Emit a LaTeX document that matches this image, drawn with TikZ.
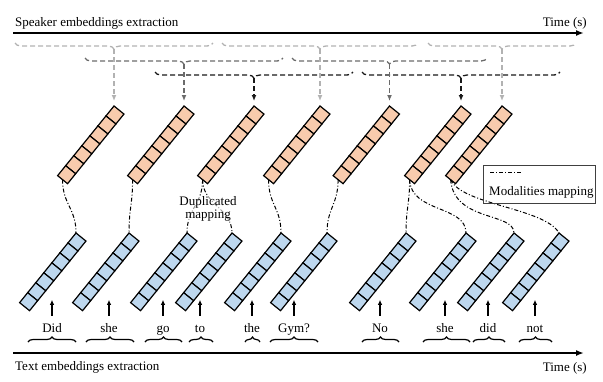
\documentclass[tikz,border=0pt]{standalone}
\usepackage{fontspec}
\setmainfont{Liberation Serif}
\usetikzlibrary{arrows.meta,decorations.pathreplacing,calc}
\definecolor{spkfill}{HTML}{F8CBAD}
\definecolor{txtfill}{HTML}{BDD7EE}
\colorlet{spkA}{black!30}
\colorlet{spkB}{black!58}
\colorlet{spkC}{black!90}
% one embedding vector: 7 cells, tilted, hanging from its top corner
\newcommand{\embbar}[3]{%
  \begin{scope}[shift={(#2)},rotate=231]
    \foreach \k in {0,...,6}
      \draw[embcell,fill=#3] (\k*12.8,0) rectangle ++(12.8,-12.8);
    \coordinate (#1-top) at (0,0);
    \coordinate (#1-bot) at (89.6,-6.4);
  \end{scope}}
\begin{document}
\begin{tikzpicture}[x=1pt,y=-1pt,
  font=\fontsize{13pt}{16pt}\selectfont,
  embcell/.style={draw=black,line width=1.2pt},
  timeaxis/.style={line width=1.6pt,-{Latex[length=8pt,width=6pt]}},
  spkbrace/.style={line width=1.3pt,dash pattern=on 5pt off 3pt,decorate,decoration={brace,mirror,amplitude=6pt}},
  spkarrow/.style={line width=1.3pt,dash pattern=on 5pt off 3pt,-{Latex[length=6pt,width=5pt]},shorten >=5pt},
  mapline/.style={line width=1pt,dash pattern=on 4pt off 2pt on 1pt off 2pt},
  wordbrace/.style={line width=1.2pt,decorate,decoration={brace,amplitude=5pt}},
  wordarrow/.style={line width=1.2pt,-{Latex[length=5pt,width=4.5pt]}},
  word/.style={anchor=base,inner sep=7pt,text height=9pt,text depth=3pt}]
\useasboundingbox (0,0) rectangle (603,381);

% time axes
\node[anchor=base west,inner sep=0pt] (spktitle) at (15,26) {Speaker embeddings extraction};
\node[anchor=base east,inner sep=0pt] (spktime) at (587,26) {Time (s)};
\coordinate (spkstart) at (13,33);
\coordinate (spkend) at (584,33);
\draw[timeaxis] (spkstart) -- (spkend);
\node[anchor=base west,inner sep=0pt] (txttitle) at (15,370) {Text embeddings extraction};
\node[anchor=base east,inner sep=0pt] (txttime) at (587,371) {Time (s)};
\coordinate (txtstart) at (13,353);
\coordinate (txtend) at (584,353);
\draw[timeaxis] (txtstart) -- (txtend);

% speaker windows
\foreach \a/\b/\y/\c in {15/213/43/spkA, 222/418/43/spkA, 428/576/43/spkA,
    85/283/58/spkB, 292/487/58/spkB, 155/353/72/spkC, 362/560/72/spkC}
  \draw[spkbrace,\c] (\a,\y) -- (\b,\y);

% speaker embeddings
\embbar{o1}{114,106}{spkfill}
\embbar{o2}{184,106}{spkfill}
\embbar{o3}{254,106}{spkfill}
\embbar{o4}{320,106}{spkfill}
\embbar{o5}{389.5,106}{spkfill}
\embbar{o6}{461,106}{spkfill}
\embbar{o7}{502,106}{spkfill}

\foreach \s/\d/\c in {1/57/spkA, 2/42/spkB, 3/28/spkC, 4/57/spkA, 5/42/spkB, 6/28/spkC, 7/57/spkA} {
  \coordinate (sp\s) at ($(o\s-top)+(0,-\d)$);
  \draw[spkarrow,\c] (sp\s) -- (o\s-top);
}

% text embeddings
\embbar{b1}{76,233}{txtfill}
\embbar{b2}{129,233}{txtfill}
\embbar{b3}{187,233}{txtfill}
\embbar{b4}{232,233}{txtfill}
\embbar{b5}{281,233}{txtfill}
\embbar{b6}{327,233}{txtfill}
\embbar{b7}{406,233}{txtfill}
\embbar{b8}{466,233}{txtfill}
\embbar{b9}{514,233}{txtfill}
\embbar{b10}{559,233}{txtfill}

% words
\foreach \x/\w/\a/\b [count=\i] in {52/Did/28/76, 109/she/86/134, 163/go/145/182,
    200/to/189/213, 252/the/245/260, 294/Gym?/270/318, 380/No/362/399,
    445/she/423/470, 488/did/473/505, 535/not/519/552} {
  \node[word] (w\i) at (\x,332) {\w};
  \draw[wordarrow] (w\i.north) -- ++(0,-16);
  \draw[wordbrace] (\a,342) -- (\b,342);
}

% modalities mapping
\foreach \o/\b in {1/1, 2/2, 3/3, 3/4, 4/5, 5/6, 6/7}
  \draw[mapline] (o\o-bot) .. controls +(0,25) and +(0,-25) .. (b\b-top);
\draw[mapline] (o6-bot) .. controls (411,213) and (466,205) .. (b8-top);
\draw[mapline] (o7-bot) .. controls (454,222) and (514,212) .. (b9-top);
\draw[mapline] (o7-bot) .. controls (462,205) and (545,208) .. (b10-top);

\node[fill=white,fill opacity=0.6,text opacity=1,align=center,inner sep=1pt,
  font=\fontsize{13pt}{13pt}\selectfont] (dup) at (208,209) {Duplicated\\mapping};

% legend
\node[draw=black!75,line width=0.7pt,minimum width=112pt,minimum height=38pt,
  anchor=north west] (legend) at (483,165) {};
\coordinate (legA) at (490,172);
\coordinate (legB) at (522,172);
\draw[mapline] (legA) -- (legB);
\node[anchor=base west,inner sep=0pt] (legtext) at (489,195) {Modalities mapping};
\end{tikzpicture}
\end{document}
